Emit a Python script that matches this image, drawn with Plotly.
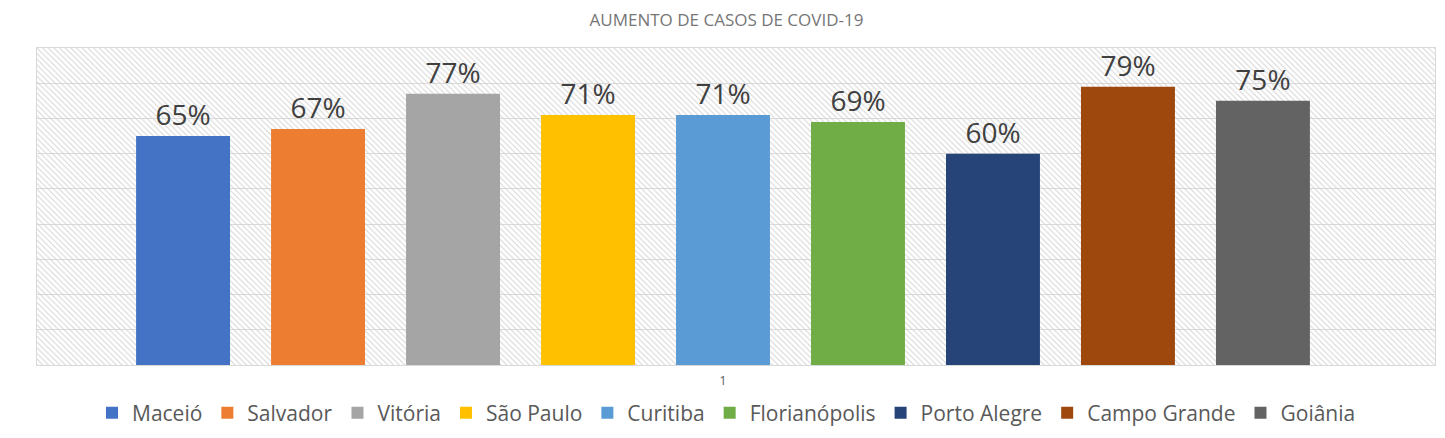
import plotly.graph_objects as go

category = ["1"]
cities = ["Maceió", "Salvador", "Vitória", "São Paulo", "Curitiba",
          "Florianópolis", "Porto Alegre", "Campo Grande", "Goiânia"]
values = [0.65, 0.67, 0.77, 0.71, 0.71, 0.69, 0.60, 0.79, 0.75]
colors = ["#4472C4", "#ED7D31", "#A5A5A5", "#FFC000", "#5B9BD5",
          "#70AD47", "#264478", "#9E480E", "#636363"]
y_max = 0.9

FONT = "Open Sans"
W, H = 1437, 430  # page body has an 8px margin
fig = go.Figure()

# hatched plot background on the base axes
fig.add_trace(go.Bar(
    x=category, y=[y_max], width=[3], xaxis="x", yaxis="y",
    marker=dict(color="#d4d4d4", line=dict(width=0),
                pattern=dict(shape="\\", size=4, solidity=0.25, fillmode="replace")),
    showlegend=False, hoverinfo="skip",
))

for name, v, c in zip(cities, values, colors):
    fig.add_trace(go.Bar(
        x=category, y=[v], name=name, xaxis="x2", yaxis="y2",
        marker=dict(color=c, line=dict(width=0)),
        text=[f"{round(v*100)}%"], textposition="outside",
        textfont=dict(size=28, color="#404040", family=FONT),
        cliponaxis=False,
    ))

xr = [-0.4907, 0.5093]
fig.update_layout(
    width=W, height=H,
    margin=dict(l=29, r=10, t=40, b=73, autoexpand=False),
    paper_bgcolor="white", plot_bgcolor="white",
    font=dict(family=FONT, color="#595959"),
    title=dict(text="AUMENTO DE CASOS DE COVID-19", x=0.5, xref="container",
               xanchor="center", y=1 - 12 / H, yanchor="middle",
               font=dict(size=17, color="#767676", family=FONT)),
    barmode="group", bargap=0.131, bargroupgap=0.304,
    xaxis=dict(type="category", range=xr, showgrid=False, zeroline=False,
               automargin=False,
               showline=True, linecolor="#d9d9d9", linewidth=1, mirror=True,
               ticks="outside", ticklen=5, tickcolor="rgba(0,0,0,0)",
               tickfont=dict(size=12, color="#595959")),
    yaxis=dict(range=[0, y_max], dtick=0.1, showgrid=True, gridcolor="#d9d9d9",
               automargin=False,
               gridwidth=1, zeroline=False, showticklabels=False,
               showline=True, linecolor="#d9d9d9", linewidth=1, mirror=True),
    xaxis2=dict(type="category", range=xr, overlaying="x", showgrid=False,
                automargin=False,
                zeroline=False, showticklabels=False, showline=False),
    yaxis2=dict(range=[0, y_max], overlaying="y", showgrid=False, zeroline=False,
                automargin=False,
                showticklabels=False, showline=False),
    legend=dict(orientation="h", xref="container", x=0.5, xanchor="center",
                yref="container", y=1 - 405 / H, yanchor="middle",
                font=dict(size=21, color="#595959", family=FONT),
                traceorder="normal"),
    showlegend=True,
)

fig.write_html("out.html")
